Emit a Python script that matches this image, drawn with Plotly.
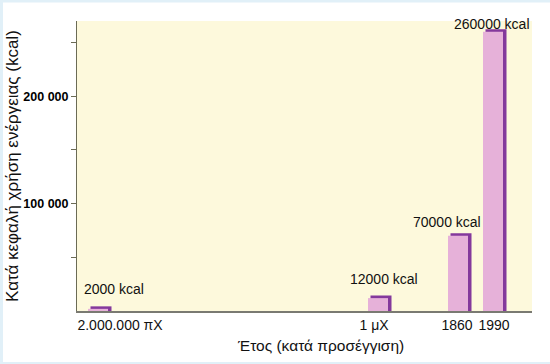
import plotly.graph_objects as go

# ---- data ----
categories = ["2.000.000 πX", "1 μX", "1860", "1990"]
energy_kcal = [2000, 12000, 70000, 260000]
bar_slots = [23, 303, 383, 418]          # positions of the bars along the (non-uniform) time axis
tick_slots = [43, 297, 380, 417]         # positions of the category labels
y_tick_vals = [50000, 100000, 150000, 200000, 250000]
y_tick_text = ["", "100 000", "", "200 000", ""]

# ---- style ----
W, H = 550, 364
L, R, T, B = 77, 18, 21, 53
PW, PH = W - L - R, H - T - B
PINK = "#e6b1d9"
PURPLE = "#84399c"
FONT = "Liberation Sans, Arial, sans-serif"
label_dx = [14, 4, -13, -3]
label_dy = [20, 19, 14, 8]

def px_x(px):
    return (px - L) / PW

def px_y(py):
    return (H - B - py) / PH

fig = go.Figure()

# purple "3D" edge (drawn behind)
fig.add_trace(go.Bar(
    x=bar_slots, y=energy_kcal, width=16, offset=-7,
    marker=dict(color=PURPLE, line=dict(color=PURPLE, width=5)),
    hoverinfo="skip", showlegend=False,
))
# pink face
fig.add_trace(go.Bar(
    x=bar_slots, y=energy_kcal, width=20, offset=-12,
    marker=dict(color=PINK, line=dict(width=0)),
    showlegend=False,
))

annotations = []
for xs, v, dx, dy in zip(bar_slots, energy_kcal, label_dx, label_dy):
    annotations.append(dict(
        x=xs, y=v, xref="x", yref="y", text=f"{v} kcal", showarrow=False,
        xshift=dx, yshift=dy, yanchor="middle", xanchor="center",
        font=dict(family=FONT, size=14, color="#111"),
    ))

annotations.append(dict(
    x=px_x(12), y=0.5, xref="paper", yref="paper",
    text="Κατά κεφαλή χρήση ενέργειας (kcal)", textangle=-90, showarrow=False,
    xanchor="center", yanchor="middle",
    font=dict(family=FONT, size=17, color="#111"),
))
annotations.append(dict(
    x=px_x(320), y=px_y(345), xref="paper", yref="paper",
    text="Έτος (κατά προσέγγιση)", showarrow=False,
    xanchor="center", yanchor="middle",
    font=dict(family=FONT, size=15.5, color="#111"),
))

BLUE = "#e1f0f8"
shapes = [
    dict(type="rect", xref="paper", yref="paper", x0=px_x(0), x1=px_x(3), y0=px_y(H), y1=px_y(0),
         fillcolor=BLUE, line=dict(width=0), layer="above"),
    dict(type="rect", xref="paper", yref="paper", x0=px_x(0), x1=px_x(W), y0=px_y(2.5), y1=px_y(0),
         fillcolor=BLUE, line=dict(width=0), layer="above"),
    dict(type="rect", xref="paper", yref="paper", x0=px_x(0), x1=px_x(W), y0=px_y(H), y1=px_y(H - 2),
         fillcolor=BLUE, line=dict(width=0), layer="above"),
]

fig.update_layout(
    width=W, height=H,
    margin=dict(l=L, r=R, t=T, b=B, pad=0),
    paper_bgcolor="white",
    plot_bgcolor="#fdf9dc",
    barmode="overlay",
    annotations=annotations,
    shapes=shapes,
    xaxis=dict(
        range=[0, PW], tickmode="array", tickvals=tick_slots, ticktext=categories,
        showgrid=False, zeroline=False, showline=True, linecolor="#7a7a72", linewidth=1.5,
        ticks="", tickfont=dict(family=FONT, size=14, color="#111"), fixedrange=True,
    ),
    yaxis=dict(
        range=[0, 270000], tickmode="array", tickvals=y_tick_vals, ticktext=y_tick_text,
        showgrid=False, zeroline=False, showline=True, linecolor="#6b6b55", linewidth=1,
        ticks="outside", ticklen=5, tickcolor="#6b6b55",
        tickfont=dict(family=FONT, size=12.5, color="#000", weight=600), fixedrange=True,
    ),
)

fig.write_html(
    "out.html",
    config={"displayModeBar": False},
    post_script="document.body.style.margin='0';document.body.style.overflow='hidden';",
)
